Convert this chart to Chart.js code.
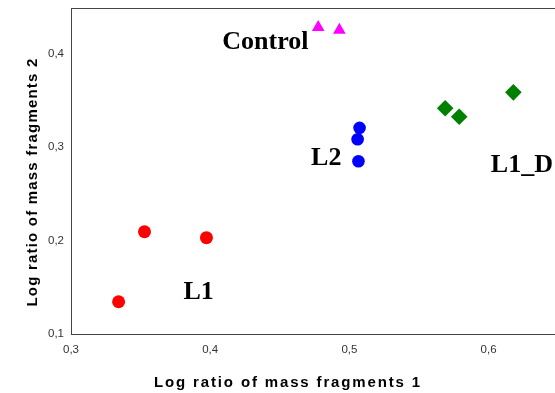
<!DOCTYPE html>
<html>
<head>
<meta charset="utf-8">
<title>Log ratio of mass fragments</title>
<script src="https://cdn.jsdelivr.net/npm/chart.js@4.4.1/dist/chart.umd.min.js"></script>
<style>
  html, body { margin:0; padding:0; background:#fff; }
  #wrap { width:555px; height:393px; position:relative; overflow:hidden; }
</style>
</head>
<body>
<div id="wrap"><canvas id="scatter"></canvas></div>
<script>
// ── Données ──
const xTicks = [0.3, 0.4, 0.5, 0.6];
const xTickLabels = ['0,3', '0,4', '0,5', '0,6'];
const yTicks = [0.1, 0.2, 0.3, 0.4];
const yTickLabels = ['0,1', '0,2', '0,3', '0,4'];

const groupNames = ['L1', 'L2', 'L1_D', 'Control'];

const l1X = [0.3528, 0.3973, 0.3342];
const l1Y = [0.2094, 0.2030, 0.1345];

const l2X = [0.5073, 0.5059, 0.5065];
const l2Y = [0.3205, 0.3083, 0.2848];

const l1dX = [0.5688, 0.5789, 0.6178];
const l1dY = [0.3414, 0.3324, 0.3585];

const controlX = [0.4776, 0.4928];
const controlY = [0.4280, 0.4251];

// where each group name is written (data coordinates, left / baseline)
const groupLabelX = [0.3808, 0.4725, 0.6016, 0.4087];
const groupLabelY = [0.1371, 0.2807, 0.2735, 0.4045];

const xTitle = 'Log ratio of mass fragments 1';
const yTitle = 'Log ratio of mass fragments 2';

const pts = (xs, ys) => xs.map((x, i) => ({ x, y: ys[i] }));

// ── Textes : noms de groupes, titres d'axes, cadre du haut ──
const overlay = {
  id: 'overlay',
  afterDraw(chart) {
    const { ctx, chartArea, scales } = chart;
    ctx.save();

    // cadre du haut
    ctx.strokeStyle = '#444';
    ctx.lineWidth = 1;
    ctx.beginPath();
    ctx.moveTo(chartArea.left, chartArea.top + 0.5);
    ctx.lineTo(chartArea.right, chartArea.top + 0.5);
    ctx.stroke();

    // noms des groupes
    ctx.fillStyle = '#000';
    ctx.font = 'bold 26px "Liberation Serif", "Times New Roman", serif';
    ctx.textAlign = 'left';
    ctx.textBaseline = 'alphabetic';
    groupNames.forEach((name, i) => {
      ctx.fillText(name, scales.x.getPixelForValue(groupLabelX[i]), scales.y.getPixelForValue(groupLabelY[i]));
    });

    // titres d'axes
    ctx.font = 'bold 15px "Liberation Sans", Arial, sans-serif';
    ctx.textAlign = 'center';
    ctx.letterSpacing = '1.85px';
    ctx.fillText(xTitle, 288, 387);

    ctx.letterSpacing = '1.2px';
    ctx.translate(36.5, 182);
    ctx.rotate(-Math.PI / 2);
    ctx.fillText(yTitle, 0, 0);

    ctx.restore();
  }
};

const tickFont = { family: '"Liberation Sans", Arial, sans-serif', size: 11.5 };

new Chart(document.getElementById('scatter'), {
  type: 'scatter',
  data: {
    datasets: [
      { label: 'L1', data: pts(l1X, l1Y), pointStyle: 'circle', pointRadius: 6.5,
        backgroundColor: '#ff0000', borderColor: '#ff0000', borderWidth: 0 },
      { label: 'L2', data: pts(l2X, l2Y), pointStyle: 'circle', pointRadius: 6.3,
        backgroundColor: '#0000ff', borderColor: '#0000ff', borderWidth: 0 },
      { label: 'L1_D', data: pts(l1dX, l1dY), pointStyle: 'rectRot', pointRadius: 8.3,
        backgroundColor: '#008000', borderColor: '#008000', borderWidth: 0 },
      { label: 'Control', data: pts(controlX, controlY), pointStyle: 'triangle', pointRadius: 7.3,
        backgroundColor: '#ff00ff', borderColor: '#ff00ff', borderWidth: 0 }
    ]
  },
  options: {
    responsive: true, maintainAspectRatio: false,
    animation: false,
    layout: { autoPadding: false, padding: { top: 8, right: 0, left: 0, bottom: 0 } },
    plugins: { legend: { display: false }, tooltip: { enabled: false } },
    scales: {
      x: {
        type: 'linear', min: 0.3, max: 0.6477,
        grid: { display: false, drawTicks: false },
        border: { display: true, color: '#444', width: 1 },
        afterBuildTicks: s => { s.ticks = xTicks.map(v => ({ value: v })); },
        afterFit: s => { s.height = 59; s.paddingLeft = 0; s.paddingRight = 0; },
        ticks: {
          color: '#333', font: tickFont, padding: 9, maxRotation: 0, autoSkip: false,
          callback: (v, i) => xTickLabels[i]
        }
      },
      y: {
        type: 'linear', min: 0.1, max: 0.4487,
        grid: { display: false, drawTicks: false },
        border: { display: true, color: '#444', width: 1 },
        afterBuildTicks: s => { s.ticks = yTicks.map(v => ({ value: v })); },
        afterFit: s => { s.width = 71; s.paddingTop = 0; s.paddingBottom = 0; },
        ticks: {
          color: '#333', font: tickFont, padding: 7, autoSkip: false,
          callback: (v, i) => yTickLabels[i]
        }
      }
    }
  },
  plugins: [overlay]
});
</script>
</body>
</html>
